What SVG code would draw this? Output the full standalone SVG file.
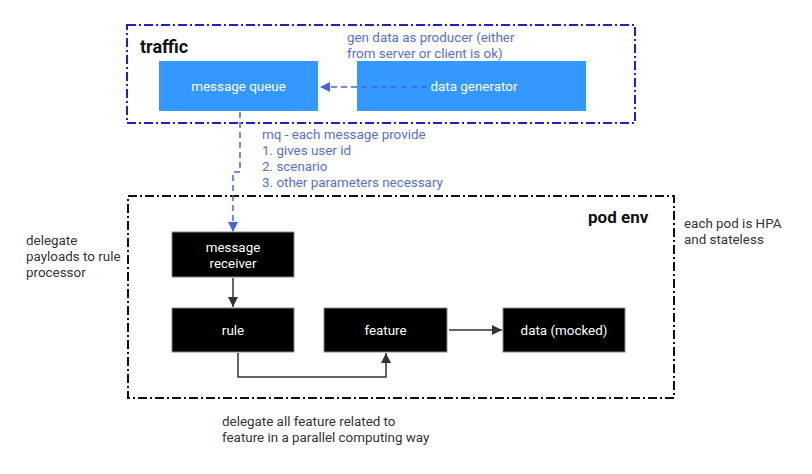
<svg xmlns="http://www.w3.org/2000/svg" width="812" height="474" viewBox="0 0 812 474">
<style>
text{font-family:Roboto,"Liberation Sans",sans-serif;font-size:13.4px}
.blue{fill:#3399ff}
.blk{fill:#000;stroke:#888;stroke-width:1}
.wt{fill:#fff;text-anchor:middle}
.note{fill:#5470d6}
.gray{fill:#333}
.title{font-weight:bold;font-size:17px;fill:#111}
.frame{fill:none;stroke-width:2;stroke-dasharray:9 3 2 3}
.dline{fill:none;stroke:#4466dd;stroke-width:1.5;stroke-dasharray:6 4}
.sline{fill:none;stroke:#333;stroke-width:1.5}
</style>
<defs>
<marker id="ab" viewBox="0 0 10 10" refX="10" refY="5" markerWidth="10" markerHeight="10" markerUnits="userSpaceOnUse" orient="auto"><path d="M0,0L10,5L0,10z" fill="#4466dd"/></marker>
<marker id="ak" viewBox="0 0 10 10" refX="10" refY="5" markerWidth="10" markerHeight="10" markerUnits="userSpaceOnUse" orient="auto"><path d="M0,0L10,5L0,10z" fill="#333"/></marker>
</defs>
<rect width="812" height="474" fill="#fff"/>
<g id="traffic">
<rect class="frame" x="127" y="25" width="508" height="98" stroke="#1a22cc"/>
<text class="title" x="140" y="53" style="font-size:18px">traffic</text>
</g>
<g id="pod-env">
<rect class="frame" x="128" y="196" width="546" height="202" stroke="#111"/>
<text class="title" x="588" y="223">pod env</text>
</g>
<g id="message-queue">
<rect class="blue" x="159" y="61" width="159" height="50"/>
<text class="wt" x="238.5" y="91">message queue</text>
</g>
<g id="data-generator">
<rect class="blue" x="357" y="61" width="229" height="50"/>
<text class="wt" x="474" y="91">data generator</text>
</g>
<g id="message-receiver">
<rect class="blk" x="172" y="232" width="122" height="45"/>
<text class="wt" x="233" y="252">message</text>
<text class="wt" x="233" y="268">receiver</text>
</g>
<g id="rule">
<rect class="blk" x="172" y="308" width="122" height="44"/>
<text class="wt" x="233" y="335">rule</text>
</g>
<g id="feature">
<rect class="blk" x="324" y="308" width="123" height="44"/>
<text class="wt" x="385.5" y="335">feature</text>
</g>
<g id="data-mocked">
<rect class="blk" x="503" y="308" width="122" height="44"/>
<text class="wt" x="564" y="335">data (mocked)</text>
</g>
<g id="connectors">
<path class="dline" d="M427,87H320" marker-end="url(#ab)"/>
<path class="dline" d="M240,112V172H233V232" marker-end="url(#ab)"/>
<path class="sline" d="M233,278V307" marker-end="url(#ak)"/>
<path class="sline" d="M238,353V377H386V353" marker-end="url(#ak)"/>
<path class="sline" d="M449,330H502" marker-end="url(#ak)"/>
</g>
<g id="labels">
<text class="note" x="347" y="42">gen data as producer (either</text>
<text class="note" x="347" y="58">from server or client is ok)</text>
<text class="note" x="262" y="139">mq - each message provide</text>
<text class="note" x="262" y="155">1. gives user id</text>
<text class="note" x="262" y="171">2. scenario</text>
<text class="note" x="262" y="187">3. other parameters necessary</text>
<text class="gray" x="26" y="245">delegate</text>
<text class="gray" x="26" y="261">payloads to rule</text>
<text class="gray" x="26" y="277">processor</text>
<text class="gray" x="684" y="228">each pod is HPA</text>
<text class="gray" x="684" y="244">and stateless</text>
<text class="gray" x="222" y="426">delegate all feature related to</text>
<text class="gray" x="222" y="442">feature in a parallel computing way</text>
</g>
</svg>
